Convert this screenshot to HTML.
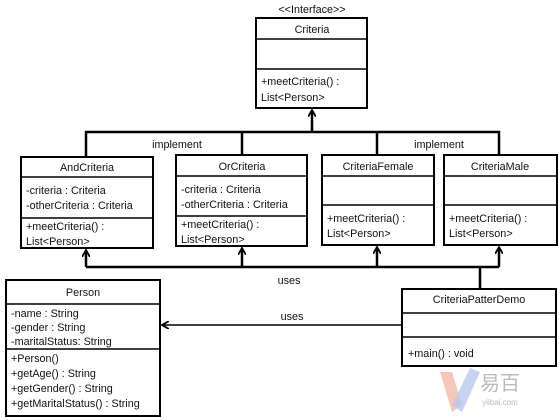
<!DOCTYPE html>
<html><head><meta charset="utf-8"><style>
html,body{margin:0;padding:0;background:#fff;}
svg{display:block;}
text{font-family:"Liberation Sans","Noto Sans CJK SC",sans-serif;font-size:10.8px;fill:#111;}
.b{fill:#fff;stroke:#000;stroke-width:2;}
.l{stroke:#000;stroke-width:1.5;}
.c{stroke:#000;stroke-width:2.5;fill:none;}
</style></head><body>
<svg width="560" height="420" viewBox="0 0 560 420">
<defs><marker id="a" markerWidth="8" markerHeight="8" refX="6" refY="4" orient="auto" markerUnits="userSpaceOnUse"><path d="M0,0 L7,4 L0,8" fill="none" stroke="#000" stroke-width="1.8"/></marker></defs>

<text x="312" y="13" text-anchor="middle">&lt;&lt;Interface&gt;&gt;</text>
<rect class="b" x="256" y="18" width="111" height="90"/>
<line class="l" x1="256" y1="39" x2="367" y2="39"/><line class="l" x1="256" y1="69" x2="367" y2="69"/>
<text x="312" y="33" text-anchor="middle">Criteria</text>
<text x="261" y="85">+meetCriteria()  :</text><text x="261" y="101">List&lt;Person&gt;</text>

<path class="c" d="M86,157 V132 H499 V155 M242,132 V155 M377,132 V155"/>
<line class="c" x1="312" y1="132" x2="312" y2="111" marker-end="url(#a)"/>
<text x="177" y="148" text-anchor="middle">implement</text>
<text x="439" y="148" text-anchor="middle">implement</text>

<rect class="b" x="21" y="157" width="132" height="91"/>
<line class="l" x1="21" y1="177" x2="153" y2="177"/><line class="l" x1="21" y1="218" x2="153" y2="218"/>
<text x="87" y="171" text-anchor="middle">AndCriteria</text>
<text x="26" y="194">-criteria : Criteria</text><text x="26" y="209">-otherCriteria  : Criteria</text>
<text x="26" y="230">+meetCriteria()  :</text><text x="26" y="245">List&lt;Person&gt;</text>

<rect class="b" x="176" y="155" width="131" height="91"/>
<line class="l" x1="176" y1="176" x2="307" y2="176"/><line class="l" x1="176" y1="216" x2="307" y2="216"/>
<text x="242" y="170" text-anchor="middle">OrCriteria</text>
<text x="181" y="193">-criteria  : Criteria</text><text x="181" y="208">-otherCriteria  : Criteria</text>
<text x="181" y="228">+meetCriteria()  :</text><text x="181" y="243">List&lt;Person&gt;</text>

<rect class="b" x="322" y="155" width="112" height="90"/>
<line class="l" x1="322" y1="176" x2="434" y2="176"/><line class="l" x1="322" y1="205" x2="434" y2="205"/>
<text x="378" y="170" text-anchor="middle">CriteriaFemale</text>
<text x="327" y="222">+meetCriteria()  :</text><text x="327" y="237">List&lt;Person&gt;</text>

<rect class="b" x="444" y="155" width="113" height="90"/>
<line class="l" x1="444" y1="176" x2="557" y2="176"/><line class="l" x1="444" y1="205" x2="557" y2="205"/>
<text x="500" y="170" text-anchor="middle">CriteriaMale</text>
<text x="449" y="222">+meetCriteria()  :</text><text x="449" y="237">List&lt;Person&gt;</text>

<path class="c" d="M86,267 H499 M480,267 V289"/>
<line class="c" x1="86" y1="267" x2="86" y2="251" marker-end="url(#a)"/>
<line class="c" x1="242" y1="267" x2="242" y2="249" marker-end="url(#a)"/>
<line class="c" x1="377" y1="267" x2="377" y2="248" marker-end="url(#a)"/>
<line class="c" x1="499" y1="267" x2="499" y2="248" marker-end="url(#a)"/>
<text x="289" y="284" text-anchor="middle">uses</text>
<text x="292" y="320" text-anchor="middle">uses</text>
<line x1="402" y1="325" x2="163" y2="325" stroke="#000" stroke-width="1.5" marker-end="url(#a)"/>

<rect class="b" x="6" y="280" width="154" height="136"/>
<line class="l" x1="6" y1="304" x2="160" y2="304"/><line class="l" x1="6" y1="349" x2="160" y2="349"/>
<text x="83" y="296" text-anchor="middle">Person</text>
<text x="11" y="317">-name  : String</text><text x="11" y="331">-gender  : String</text><text x="11" y="345">-maritalStatus:  String</text>
<text x="11" y="362">+Person()</text><text x="11" y="377">+getAge() : String</text><text x="11" y="392">+getGender()  : String</text><text x="11" y="407">+getMaritalStatus()  : String</text>

<rect class="b" x="402" y="289" width="154" height="77"/>
<line class="l" x1="402" y1="313" x2="556" y2="313"/><line class="l" x1="402" y1="337" x2="556" y2="337"/>
<text x="479" y="303" text-anchor="middle">CriteriaPatterDemo</text>
<text x="408" y="357">+main()  : void</text>

<path d="M440,372 L452,372 L462,405 L452,412 Z" fill="#f4b8a8" opacity="0.8"/>
<path d="M470,368 L480,372 L462,412 L452,405 Z" fill="#b8c8ee" opacity="0.8"/>
<text x="500" y="390" text-anchor="middle" style="font-size:20px;fill:#bbb">易百</text>
<text x="500" y="405" text-anchor="middle" style="font-size:8px;fill:#bbb">yiibai.com</text>
</svg>
</body></html>
